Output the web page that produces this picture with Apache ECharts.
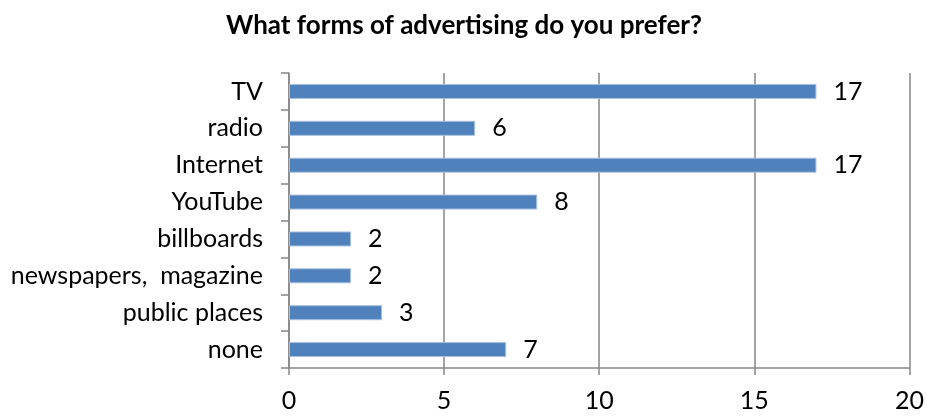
<!DOCTYPE html>
<html>
<head>
<meta charset="utf-8">
<script src="https://cdn.jsdelivr.net/npm/echarts@6/dist/echarts.min.js"></script>
<style>
  html, body { margin: 0; padding: 0; background: #fff; }
  #chart { width: 927px; height: 417px; }
</style>
</head>
<body>
<div id="chart"></div>
<script>
// Survey answers, listed top to bottom as shown
const categories = ['TV', 'radio', 'Internet', 'YouTube', 'billboards', 'newspapers,  magazine', 'public places', 'none'];
const counts = [17, 6, 17, 8, 2, 2, 3, 7];
const xTicks = [0, 5, 10, 15, 20];

const FONT = 'Lato';
const chart = echarts.init(document.getElementById('chart'), null, { renderer: 'canvas' });

chart.setOption({
  animation: false,
  backgroundColor: '#ffffff',
  title: {
    text: 'What forms of advertising do you prefer?',
    left: 459,
    textAlign: 'center',
    top: 8,
    textStyle: { fontFamily: FONT, fontSize: 26, fontWeight: 'bold', color: '#000' }
  },
  grid: { left: 289, right: 16, top: 73, bottom: 49, containLabel: false },
  xAxis: {
    type: 'value',
    min: xTicks[0],
    max: xTicks[xTicks.length - 1],
    interval: 5,
    axisLine: { show: true, lineStyle: { color: '#868686', width: 1.5 } },
    axisTick: { show: true, length: 7, lineStyle: { color: '#868686', width: 1.5 } },
    splitLine: { show: true, lineStyle: { color: '#868686', width: 1.5 } },
    axisLabel: { color: '#000', fontFamily: FONT, fontSize: 25, margin: 20 }
  },
  yAxis: {
    type: 'category',
    inverse: true,
    data: categories,
    axisLine: { show: true, lineStyle: { color: '#868686', width: 1.5 } },
    axisTick: { show: true, length: 8, lineStyle: { color: '#868686', width: 1.5 } },
    axisLabel: { color: '#000', fontFamily: FONT, fontSize: 25, margin: 26 }
  },
  series: [{
    type: 'bar',
    data: counts,
    barWidth: 15,
    itemStyle: { color: '#4F81BD', borderColor: '#A7BFDE', borderWidth: 1 },
    label: {
      show: true,
      position: 'right',
      distance: 17,
      color: '#000',
      fontFamily: FONT,
      fontSize: 25
    }
  }]
});
</script>
</body>
</html>
